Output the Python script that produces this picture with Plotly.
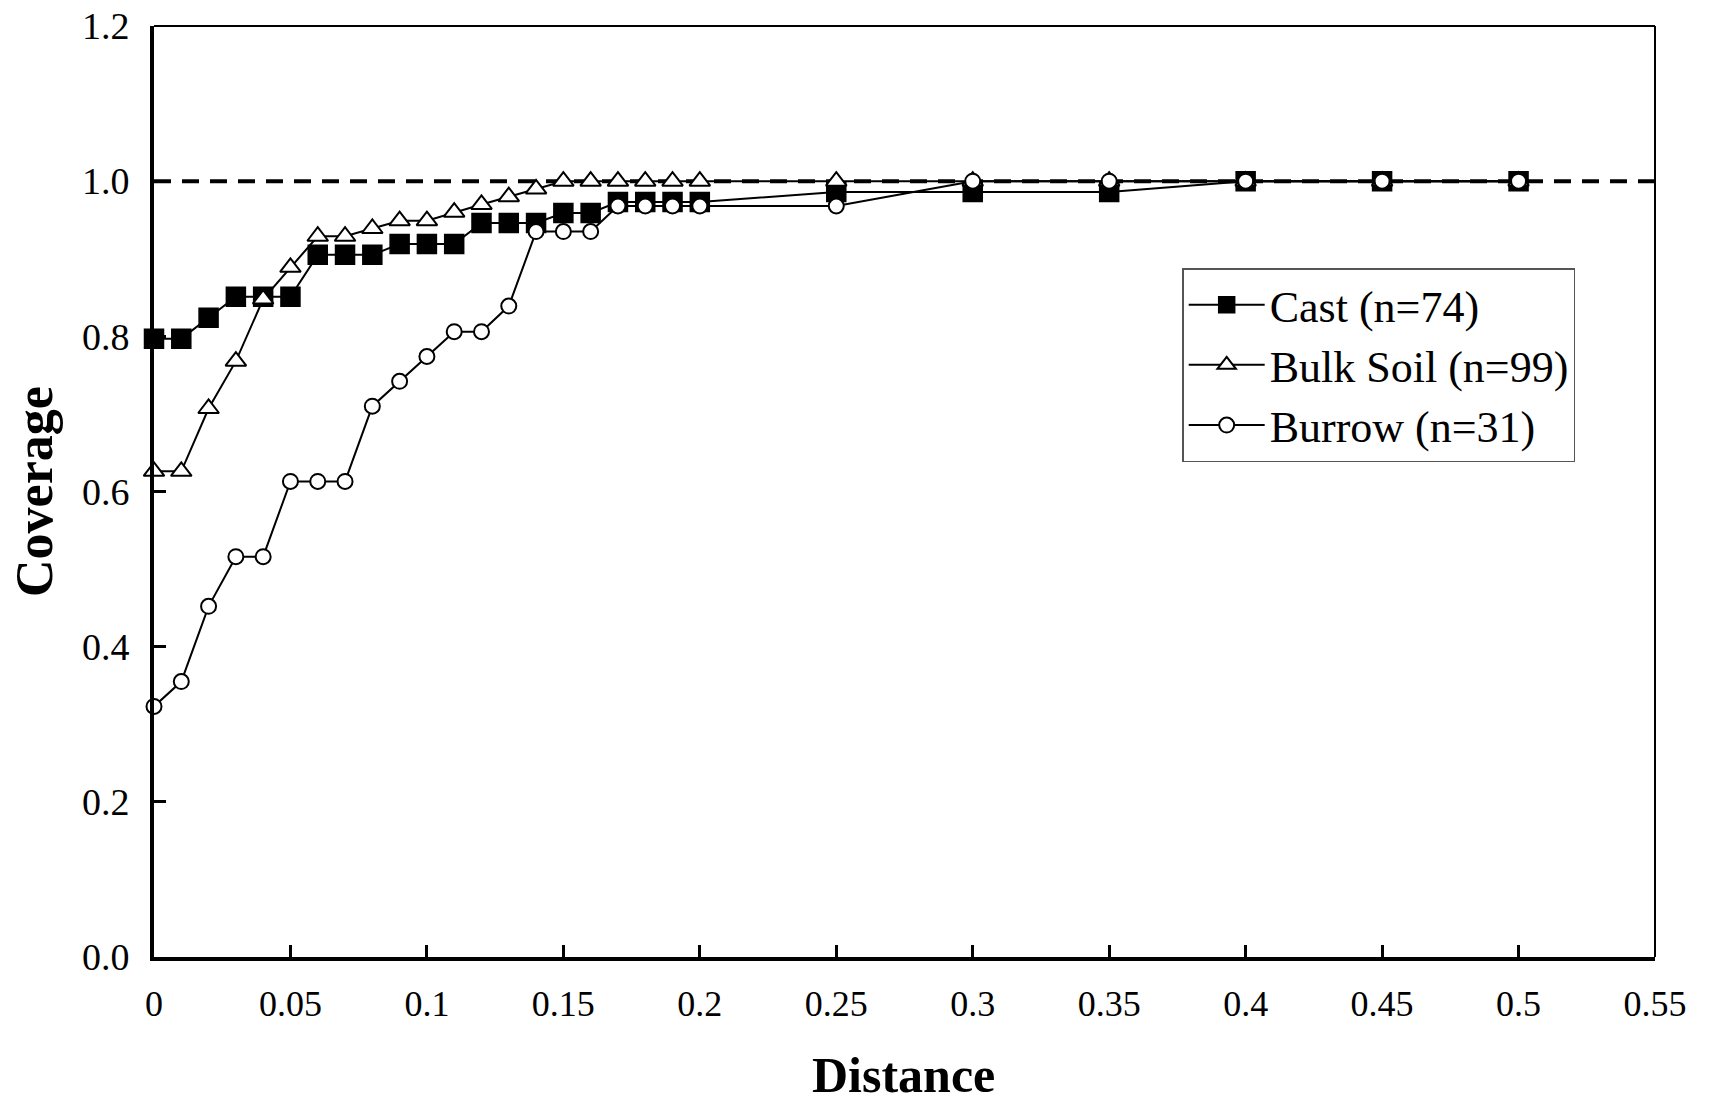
import plotly.graph_objects as go

distance = [0, 0.01, 0.02, 0.03, 0.04, 0.05, 0.06, 0.07, 0.08, 0.09, 0.10,
            0.11, 0.12, 0.13, 0.14, 0.15, 0.16, 0.17, 0.18, 0.19, 0.20,
            0.25, 0.30, 0.35, 0.40, 0.45, 0.50]

cast = [0.797, 0.797, 0.824, 0.851, 0.851, 0.851, 0.905, 0.905, 0.905, 0.919, 0.919,
        0.919, 0.946, 0.946, 0.946, 0.959, 0.959, 0.973, 0.973, 0.973, 0.973,
        0.986, 0.986, 0.986, 1.0, 1.0, 1.0]

bulk_soil = [0.626, 0.626, 0.707, 0.768, 0.848, 0.889, 0.929, 0.929, 0.939, 0.949, 0.949,
             0.960, 0.970, 0.980, 0.990, 1.0, 1.0, 1.0, 1.0, 1.0, 1.0,
             1.0, 1.0, 1.0, 1.0, 1.0, 1.0]

burrow = [0.323, 0.355, 0.452, 0.516, 0.516, 0.613, 0.613, 0.613, 0.710, 0.742, 0.774,
          0.806, 0.806, 0.839, 0.935, 0.935, 0.935, 0.968, 0.968, 0.968, 0.968,
          0.968, 1.0, 1.0, 1.0, 1.0, 1.0]

series_names = ["Cast (n=74)", "Bulk Soil (n=99)", "Burrow (n=31)"]

x_tickvals = [0, 0.05, 0.1, 0.15, 0.2, 0.25, 0.3, 0.35, 0.4, 0.45, 0.5, 0.55]
x_ticktext = ["0", "0.05", "0.1", "0.15", "0.2", "0.25", "0.3", "0.35", "0.4", "0.45", "0.5", "0.55"]
y_tickvals = [0, 0.2, 0.4, 0.6, 0.8, 1.0, 1.2]
y_ticktext = ["0.0", "0.2", "0.4", "0.6", "0.8", "1.0", "1.2"]
reference_level = 1.0

x_title = "Distance"
y_title = "Coverage"

FONT = "Liberation Serif, Times New Roman, serif"

fig = go.Figure()

fig.add_trace(go.Scatter(
    x=distance, y=cast, name=series_names[0], mode="lines+markers",
    line=dict(color="black", width=2),
    marker=dict(symbol="square", size=19, color="black", line=dict(color="black", width=1.5)),
    cliponaxis=False,
))
fig.add_trace(go.Scatter(
    x=distance, y=bulk_soil, name=series_names[1], mode="lines+markers",
    line=dict(color="black", width=2),
    marker=dict(symbol="triangle-up", size=18, color="white", line=dict(color="black", width=2)),
    cliponaxis=False,
))
fig.add_trace(go.Scatter(
    x=distance, y=burrow, name=series_names[2], mode="lines+markers",
    line=dict(color="black", width=2),
    marker=dict(symbol="circle", size=15, color="white", line=dict(color="black", width=2)),
    cliponaxis=False,
))

# dashed reference line at full coverage
fig.add_shape(type="line", xref="paper", x0=0, x1=1, yref="y", y0=reference_level, y1=reference_level,
              line=dict(color="black", width=4, dash="17px,11px"), layer="below")

# thin top and right frame
fig.add_shape(type="line", xref="paper", yref="paper", x0=0, x1=1, y0=1, y1=1,
              line=dict(color="black", width=2))
fig.add_shape(type="line", xref="paper", yref="paper", x0=1, x1=1, y0=0, y1=1,
              line=dict(color="black", width=2))

# axis titles
fig.add_annotation(text="<b>" + x_title + "</b>", xref="paper", yref="paper",
                   x=0.4993, y=-0.1267, xanchor="center", yanchor="middle", showarrow=False,
                   font=dict(family=FONT, size=50, color="black"))
fig.add_annotation(text="<b>" + y_title + "</b>", xref="paper", yref="paper",
                   x=-0.080, y=0.5005, xanchor="center", yanchor="middle", showarrow=False,
                   textangle=-90, font=dict(family=FONT, size=52, color="black"))

fig.update_layout(
    width=1711, height=1102,
    margin=dict(l=154, r=56, t=26, b=145, autoexpand=False),
    paper_bgcolor="white", plot_bgcolor="white",
    font=dict(family=FONT, color="black", size=36),
    showlegend=True,
    legend=dict(
        x=0.685, y=0.740, xanchor="left", yanchor="top",
        bgcolor="white", bordercolor="#555555", borderwidth=1.5,
        font=dict(family=FONT, size=44, color="black"),
        itemwidth=76, tracegroupgap=0,
    ),
    xaxis=dict(
        range=[0, 0.55], tickvals=x_tickvals, ticktext=x_ticktext,
        showgrid=False, zeroline=False, automargin=False,
        showline=True, linecolor="black", linewidth=4,
        ticks="inside", ticklen=12, tickwidth=2.5, tickcolor="black",
        tickfont=dict(family=FONT, size=36),
        ticklabelstandoff=12,
    ),
    yaxis=dict(
        range=[0, 1.2], tickvals=y_tickvals, ticktext=y_ticktext,
        showgrid=False, zeroline=False, automargin=False,
        showline=True, linecolor="black", linewidth=4,
        ticks="inside", ticklen=12, tickwidth=2.5, tickcolor="black",
        tickfont=dict(family=FONT, size=38),
        ticklabelstandoff=13,
    ),
)

fig.write_html("out.html")
